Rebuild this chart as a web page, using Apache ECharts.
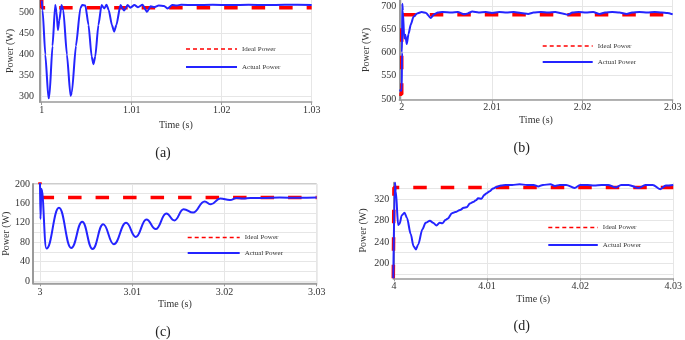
<!DOCTYPE html>
<html>
<head>
<meta charset="utf-8">
<script src="https://cdn.jsdelivr.net/npm/echarts@6/dist/echarts.min.js"></script>
<style>
html, body { margin: 0; padding: 0; background: #fff; }
#main { width: 685px; height: 340px; }
</style>
</head>
<body>
<div id="main"></div>
<script>
// ---- data: [time (s), power (W)] ----
// (a) step at t = 1 s
var idealA = [[1, 600], [1, 511], [1.03, 511]];
var actualA = [
	[1.0000, 528], [1.0001, 505], [1.0004, 400], [1.00075, 296], [1.00085, 300], [1.0012, 420],
	[1.0015, 517], [1.00165, 500], [1.0018, 458], [1.00195, 480], [1.0022, 517], [1.0024, 505],
	[1.0028, 400], [1.0032, 302], [1.00335, 310], [1.0038, 420], [1.0043, 510], [1.0045, 517],
	[1.00485, 516], [1.0052, 470], [1.00555, 395], [1.00575, 377], [1.00595, 395], [1.0063, 470],
	[1.00665, 517], [1.00695, 509], [1.0072, 518], [1.00745, 505], [1.0078, 470], [1.00805, 454],
	[1.0083, 470], [1.00875, 517], [1.00915, 504], [1.00955, 517], [1.00985, 511], [1.0103, 517],
	[1.0107, 512], [1.0112, 518], [1.0117, 501], [1.0121, 514], [1.0125, 512], [1.0130, 516],
	[1.0136, 515], [1.0140, 509], [1.0145, 517], [1.0150, 516], [1.0155, 518], [1.0170, 517],
	[1.0190, 518], [1.0210, 517], [1.0230, 518], [1.0250, 517], [1.0270, 518], [1.0300, 517]
];
// (b) step at t = 2 s
var idealB = [[1.99973, 510], [2, 510], [2, 681], [2.03, 681]];
var actualB = [
	[1.99973, 518], [2.0000, 518], [2.00003, 600], [2.00006, 705], [2.00012, 690], [2.00028, 630],
	[2.0004, 638], [2.00055, 618], [2.00075, 640], [2.0010, 660], [2.0013, 677], [2.0017, 684],
	[2.0022, 687], [2.0027, 685], [2.0032, 674], [2.0036, 682], [2.0040, 686], [2.0045, 687],
	[2.0055, 686], [2.0062, 687], [2.0069, 682], [2.0073, 684], [2.0078, 688], [2.0085, 686],
	[2.0093, 687], [2.0100, 685], [2.0108, 687], [2.0116, 686], [2.0124, 687], [2.0132, 685],
	[2.0140, 683], [2.0146, 686], [2.0154, 687], [2.0162, 686], [2.0170, 687], [2.0178, 684],
	[2.0184, 681], [2.0189, 686], [2.0196, 687], [2.0204, 686], [2.0212, 687], [2.0219, 683],
	[2.0225, 686], [2.0233, 687], [2.0241, 686], [2.0249, 683], [2.0255, 686], [2.0263, 687],
	[2.0272, 686], [2.0280, 687], [2.0288, 686], [2.0294, 685], [2.0300, 682]
];
// (c) step at t = 3 s
var idealC = [[3, 681], [3, 172], [3.03, 172]];
var actualC = [
	[3.0000, 205], [3.00005, 128], [3.00015, 190], [3.0007, 67], [3.00206, 151], [3.00339, 68],
	[3.00458, 122], [3.0057, 66], [3.00685, 117], [3.0080, 76], [3.00934, 120], [3.01039, 91],
	[3.01154, 127], [3.01255, 107], [3.0137, 139], [3.01457, 125], [3.01557, 148], [3.0166, 141],
	[3.01785, 164], [3.01853, 158], [3.01954, 170], [3.0206, 167], [3.0213, 171], [3.0220, 170],
	[3.0228, 171], [3.0240, 171], [3.0260, 172], [3.0280, 171.5], [3.0300, 172]
];
// (d) step at t = 4 s
var idealD = [[3.99993, 172], [4, 172], [4, 342], [4.03, 342]];
var actualD = [
	[3.99993, 172], [4.0000, 172], [4.0001, 352], [4.0002, 335], [4.00045, 272], [4.0006, 274],
	[4.00085, 290], [4.00113, 295], [4.0014, 285], [4.0018, 255], [4.0021, 232], [4.00236, 226],
	[4.0026, 235], [4.00306, 264], [4.0034, 276], [4.00387, 280], [4.0042, 276], [4.00457, 271],
	[4.0049, 276], [4.0052, 275], [4.00552, 281], [4.0058, 284], [4.00623, 294], [4.0066, 296],
	[4.0071, 300], [4.0075, 304], [4.0078, 305], [4.00816, 312], [4.0085, 315], [4.0088, 318],
	[4.00904, 322], [4.0094, 321], [4.0097, 328], [4.00992, 331], [4.0103, 335], [4.01062, 340],
	[4.0110, 343], [4.0115, 346], [4.0120, 347], [4.0127, 347], [4.0135, 348], [4.0143, 347],
	[4.0150, 347], [4.0155, 344], [4.0160, 347], [4.0168, 348], [4.0173, 345], [4.0178, 347],
	[4.0185, 347], [4.0194, 341], [4.0200, 347], [4.0208, 347], [4.0215, 346], [4.0223, 347],
	[4.0230, 347], [4.0238, 342], [4.0244, 347], [4.0252, 347], [4.0263, 341], [4.0270, 347],
	[4.0278, 347], [4.0286, 339], [4.0292, 346], [4.0300, 347]
];

// tick labels
var xTicksA = [1, 1.01, 1.02, 1.03];
var xTicksB = [2, 2.01, 2.02, 2.03];
var xTicksC = [3, 3.01, 3.02, 3.03];
var xTicksD = [4, 4.01, 4.02, 4.03];
var yLabelsA = [300, 350, 400, 450, 500];
var yLabelsB = [500, 550, 600, 650, 700];
var yLabelsC = [0, 40, 80, 120, 160, 200];
var yGridC = [0, 20, 40, 60, 80, 100, 120, 140, 160, 180, 200];
var yLabelsD = [200, 240, 280, 320];
var yGridD = [180, 200, 220, 240, 260, 280, 300, 320, 340];

var FONT = 'Liberation Serif';
var RED = '#ff0000';
var BLUE = '#2424ff';

// layout of the 4 panels
var panels = [
	{ grid: { left: 40, top: 0, width: 271.7, height: 102 }, x: [0.99981, 1.03], y: [287.4, 529.1],
	  xTicks: xTicksA, yLabels: yLabelsA, yGrid: yLabelsA, ideal: idealA, actual: actualA, smooth: 0.2,
	  xMargin: 3, xNameGap: 18, yMargin: 6, yNameGap: 25, box: false,
	  legend: { left: 185, top: 44.5, itemWidth: 51, itemGap: 9 }, tag: ['(a)', 163, 153] },
	{ grid: { left: 399.3, top: 0, width: 273.4, height: 100 }, x: [1.99973, 2.03], y: [497.8, 712.9],
	  xTicks: xTicksB, yLabels: yLabelsB, yGrid: yLabelsB, ideal: idealB, actual: actualB, smooth: 0.2,
	  xMargin: 2, xNameGap: 15, yMargin: 3, yNameGap: 27.5, box: false,
	  legend: { left: 541.7, top: 41.5, itemWidth: 50, itemGap: 7 }, tag: ['(b)', 521.7, 148] },
	{ grid: { left: 32.3, top: 184, width: 284.4, height: 99.3 }, x: [2.999243, 3.03], y: [-4.7, 200],
	  xTicks: xTicksC, yLabels: yLabelsC, yGrid: yGridC, ideal: idealC, actual: actualC, smooth: 0.45,
	  xMargin: 4, xNameGap: 16.5, yMargin: 3, yNameGap: 22, box: true,
	  legend: { left: 186.7, top: 233, itemWidth: 52, itemGap: 6.6 }, tag: ['(c)', 163, 332] },
	{ grid: { left: 393.3, top: 182.7, width: 285, height: 95.6 }, x: [3.99993, 4.03], y: [171.9, 351.1],
	  xTicks: xTicksD, yLabels: yLabelsD, yGrid: yGridD, ideal: idealD, actual: actualD, smooth: 0.3,
	  xMargin: 3, xNameGap: 16, yMargin: 4, yNameGap: 25, box: false,
	  legend: { left: 547.3, top: 223, itemWidth: 49.5, itemGap: 8.6 }, tag: ['(d)', 521.7, 326.7] }
];

var grid = [], xAxis = [], yAxis = [], series = [], legend = [], graphic = [];

panels.forEach(function(p, i) {
	grid.push({
		left: p.grid.left, top: p.grid.top, width: p.grid.width, height: p.grid.height,
		show: p.box, borderColor: '#9a9a9a', borderWidth: 1, backgroundColor: 'transparent'
	});
	xAxis.push({
		type: 'value', gridIndex: i, min: p.x[0], max: p.x[1],
		name: 'Time (s)', nameLocation: 'middle', nameGap: p.xNameGap,
		nameTextStyle: { fontFamily: FONT, fontSize: 10, color: '#333' },
		axisLine: { onZero: false, lineStyle: { color: '#9a9a9a', width: 1.5 } },
		axisTick: { show: true, length: 3, customValues: p.xTicks, lineStyle: { color: '#9a9a9a' } },
		axisLabel: {
			customValues: p.xTicks, margin: p.xMargin, fontFamily: FONT, fontSize: 10, color: '#333',
			formatter: function(v) { return String(+v.toFixed(2)); }
		},
		splitLine: { show: true, lineStyle: { color: '#e6e6e6', width: 1 } }
	});
	yAxis.push({
		type: 'value', gridIndex: i, min: p.y[0], max: p.y[1],
		name: 'Power (W)', nameLocation: 'middle', nameGap: p.yNameGap,
		nameTextStyle: { fontFamily: FONT, fontSize: 10, color: '#333' },
		axisLine: { show: true, onZero: false, lineStyle: { color: '#9a9a9a', width: 2 } },
		axisTick: { show: false, customValues: p.yGrid },
		axisLabel: { customValues: p.yLabels, margin: p.yMargin, fontFamily: FONT, fontSize: 10, color: '#333' },
		splitLine: { show: true, lineStyle: { color: '#e6e6e6', width: 1 } }
	});
	series.push({
		name: 'Ideal Power', type: 'line', xAxisIndex: i, yAxisIndex: i,
		data: p.ideal, symbol: 'none', animation: false, z: 2,
		lineStyle: { color: RED, width: 3.5, type: [13.5, 14] },
		itemStyle: { color: RED }
	});
	series.push({
		name: 'Actual Power', type: 'line', xAxisIndex: i, yAxisIndex: i,
		data: p.actual, symbol: 'none', animation: false, z: 3,
		smooth: p.smooth, smoothMonotone: 'x',
		lineStyle: { color: BLUE, width: 2 },
		itemStyle: { color: BLUE }
	});
	legend.push({
		orient: 'vertical', left: p.legend.left, top: p.legend.top, padding: 0,
		itemWidth: p.legend.itemWidth, itemHeight: 9, itemGap: p.legend.itemGap,
		selectedMode: false,
		textStyle: { fontFamily: FONT, fontSize: 7, color: '#333', lineHeight: 9 },
		data: [
			{ name: 'Ideal Power', itemStyle: { color: 'rgba(0,0,0,0)', borderWidth: 0 },
			  lineStyle: { color: RED, width: 1.5, type: [4, 3] } },
			{ name: 'Actual Power', itemStyle: { color: 'rgba(0,0,0,0)', borderWidth: 0 },
			  lineStyle: { color: BLUE, width: 2 } }
		]
	});
	// panel tag (a), (b), ...
	graphic.push({
		type: 'text', x: p.tag[1], y: p.tag[2],
		style: { text: p.tag[0], fontFamily: FONT, fontSize: 14, fill: '#222', align: 'center', verticalAlign: 'middle' }
	});
});

var myChart = echarts.init(document.getElementById('main'));
myChart.setOption({
	backgroundColor: '#fff',
	animation: false,
	grid: grid,
	xAxis: xAxis,
	yAxis: yAxis,
	legend: legend,
	graphic: graphic,
	series: series
});
</script>
</body>
</html>
